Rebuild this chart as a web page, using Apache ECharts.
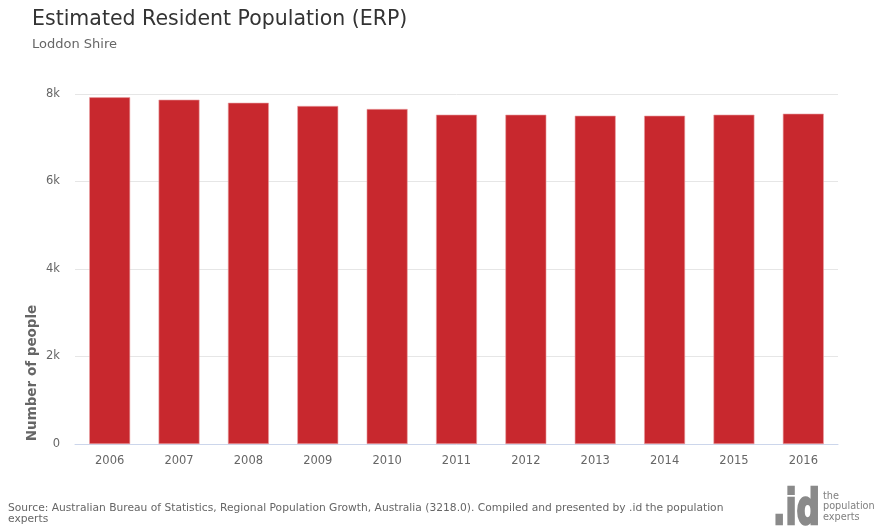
<!DOCTYPE html>
<html>
<head>
<meta charset="utf-8">
<script src="https://cdn.jsdelivr.net/npm/echarts@6/dist/echarts.min.js"></script>
<style>html,body{margin:0;padding:0;background:#fff}#c{width:883px;height:526px}</style>
</head>
<body>
<div id="c"></div>
<script>
const categories = ['2006','2007','2008','2009','2010','2011','2012','2013','2014','2015','2016'];
const population = [7925, 7870, 7800, 7726, 7657, 7527, 7527, 7504, 7504, 7527, 7550];
const yTickValues = [0, 2000, 4000, 6000, 8000];
const yTickLabels = ['0', '2k', '4k', '6k', '8k'];

const FONT = '"DejaVu Sans", sans-serif';
const chart = echarts.init(document.getElementById('c'), null, {renderer: 'canvas'});
chart.setOption({
  animation: false,
  backgroundColor: '#fff',
  textStyle: {fontFamily: FONT},
  title: [
    {text: 'Estimated Resident Population (ERP)', left: 27, top: 4,
     textStyle: {fontFamily: FONT, fontSize: 20.5, fontWeight: 'normal', color: '#333'}},
    {text: 'Loddon Shire', left: 27, top: 33,
     textStyle: {fontFamily: FONT, fontSize: 13, fontWeight: 'normal', color: '#666'}}
  ],
  grid: {left: 75, right: 45, top: 94, bottom: 82},
  xAxis: {
    type: 'category',
    data: categories,
    axisLine: {lineStyle: {color: '#ccd6eb'}},
    axisTick: {alignWithLabel: true, length: 8, lineStyle: {color: '#ccd6eb'}},
    axisLabel: {color: '#666', fontSize: 11.5, fontFamily: FONT, margin: 11}
  },
  yAxis: {
    type: 'value',
    min: 0, max: 8000, interval: 2000,
    axisLine: {show: false},
    axisTick: {show: false},
    splitLine: {lineStyle: {color: '#e6e6e6'}},
    axisLabel: {
      color: '#666', fontSize: 11.5, fontFamily: FONT, margin: 15,
      formatter: v => yTickLabels[yTickValues.indexOf(v)]
    }
  },
  series: [{
    type: 'bar',
    data: population,
    barWidth: '59%',
    itemStyle: {color: '#c8282e', borderColor: '#e9a0a3', borderWidth: 0.6}
  }],
  graphic: [
    {type: 'text', x: 32, y: 373, rotation: Math.PI/2, style: {text: 'Number of people', fill: '#666', font: 'bold 13.5px ' + FONT, textAlign: 'center', textVerticalAlign: 'middle'}},
    {type: 'text', x: 8, y: 502.5, style: {text: 'Source: Australian Bureau of Statistics, Regional Population Growth, Australia (3218.0). Compiled and presented by .id the population', fill: '#666', font: '10.7px ' + FONT}},
    {type: 'text', x: 8, y: 513.5, style: {text: 'experts', fill: '#666', font: '10.7px ' + FONT}},
    {type: 'text', x: 773, y: 512, scaleX: 0.68, style: {text: '.id', fill: '#8a8a8a', stroke: '#8a8a8a', lineWidth: 2.5, lineJoin: 'round', font: 'bold 48px ' + FONT, textVerticalAlign: 'middle'}},
    {type: 'text', x: 823, y: 490.5, style: {text: 'the\npopulation\nexperts', fill: '#808080', font: '10.8px "DejaVu Sans Condensed", ' + FONT, lineHeight: 10.5}}
  ]
});
</script>
</body>
</html>
